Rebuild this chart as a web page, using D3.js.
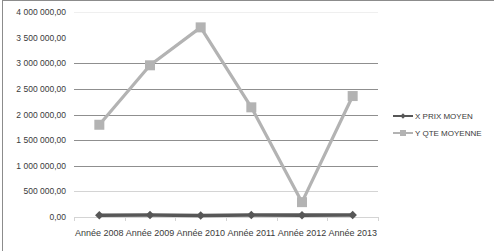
<!DOCTYPE html>
<html>
<head>
<meta charset="utf-8">
<script src="https://cdn.jsdelivr.net/npm/d3@7"></script>
<style>
  body { margin: 0; background: #fff; }
  svg text { font-family: "Liberation Sans", Arial, sans-serif; fill: #3a3a3a; }
</style>
</head>
<body>
<div id="chart"></div>
<script>
const categories = ['Année 2008', 'Année 2009', 'Année 2010', 'Année 2011', 'Année 2012', 'Année 2013'];
const prixMoyen = [35000, 38000, 30000, 40000, 36000, 38000];
const qteMoyenne = [1800000, 2960000, 3700000, 2140000, 290000, 2360000];
const yTicks = [0, 500000, 1000000, 1500000, 2000000, 2500000, 3000000, 3500000, 4000000];
const seriesNames = ['X PRIX MOYEN', 'Y QTE MOYENNE'];

const width = 494, height = 251;
const margin = {top: 12, right: 116, bottom: 34, left: 74};

const svg = d3.select('#chart').append('svg')
  .attr('width', width)
  .attr('height', height);

// outer frame
svg.append('rect')
  .attr('x', 2.5).attr('y', 0.5)
  .attr('width', 520).attr('height', 280)
  .attr('fill', 'none')
  .attr('stroke', '#8c8c8c');

const x = d3.scaleBand()
  .domain(categories)
  .range([margin.left, width - margin.right]);

const y = d3.scaleLinear()
  .domain([0, 4000000])
  .range([height - margin.bottom, margin.top]);

const fmt = v => d3.format(',.2f')(v).replace(/,/g, ' ').replace('.', ',');

// gridlines (the original has uneven grey tones)
const gridColor = v => {
  if (v === 4000000) return '#efefef';
  if (v === 3500000) return '#ffffff';
  if (v === 500000 || v === 0) return '#d4d4d4';
  return '#8f8f8f';
};

svg.append('g')
  .selectAll('line')
  .data(yTicks)
  .join('line')
  .attr('x1', margin.left)
  .attr('x2', width - margin.right)
  .attr('y1', d => Math.round(y(d)) + 0.5)
  .attr('y2', d => Math.round(y(d)) + 0.5)
  .attr('stroke', d => gridColor(d));

// y labels
svg.append('g')
  .selectAll('text')
  .data(yTicks)
  .join('text')
  .attr('x', margin.left - 8)
  .attr('y', d => y(d) + 3)
  .attr('text-anchor', 'end')
  .style('font-size', '8.5px')
  .text(d => fmt(d));

// category ticks on the axis
const bounds = categories.map(c => x(c)).concat([x.range()[1]]);
svg.append('g')
  .selectAll('line')
  .data(bounds)
  .join('line')
  .attr('x1', d => Math.round(d) + 0.5)
  .attr('x2', d => Math.round(d) + 0.5)
  .attr('y1', y(0))
  .attr('y2', y(0) + 4)
  .attr('stroke', '#d4d4d4');

// x labels
svg.append('g')
  .selectAll('text')
  .data(categories)
  .join('text')
  .attr('x', d => x(d) + x.bandwidth() / 2)
  .attr('y', y(0) + 19)
  .attr('text-anchor', 'middle')
  .style('font-size', '9px')
  .text(d => d);

const cx = (d, i) => x(categories[i]) + x.bandwidth() / 2;
const line = d3.line().x(cx).y(d => y(d));

// QTE series
svg.append('path')
  .datum(qteMoyenne)
  .attr('d', line)
  .attr('fill', 'none')
  .attr('stroke', '#b3b3b3')
  .attr('stroke-width', 3.2)
  .attr('stroke-linejoin', 'round');

svg.append('g')
  .selectAll('rect')
  .data(qteMoyenne)
  .join('rect')
  .attr('x', (d, i) => cx(d, i) - 5)
  .attr('y', d => y(d) - 5)
  .attr('width', 10)
  .attr('height', 10)
  .attr('fill', '#b3b3b3');

// PRIX series
svg.append('path')
  .datum(prixMoyen)
  .attr('d', line)
  .attr('fill', 'none')
  .attr('stroke', '#575757')
  .attr('stroke-width', 3.6);

svg.append('g')
  .selectAll('path')
  .data(prixMoyen)
  .join('path')
  .attr('transform', (d, i) => `translate(${cx(d, i)},${y(d)}) rotate(45)`)
  .attr('d', d3.symbol().type(d3.symbolSquare).size(36))
  .attr('fill', '#575757');

// legend
const legend = svg.append('g').attr('transform', 'translate(393,116)');
const items = [
  {name: seriesNames[0], color: '#575757', shape: 'diamond'},
  {name: seriesNames[1], color: '#b3b3b3', shape: 'square'}
];
items.forEach((it, i) => {
  const g = legend.append('g').attr('transform', `translate(0,${i * 17})`);
  g.append('line')
    .attr('x1', 0).attr('x2', 20)
    .attr('stroke', it.color)
    .attr('stroke-width', 2);
  if (it.shape === 'diamond') {
    g.append('path')
      .attr('transform', 'translate(10,0) rotate(45)')
      .attr('d', d3.symbol().type(d3.symbolSquare).size(14))
      .attr('fill', it.color);
  } else {
    g.append('rect')
      .attr('x', 7).attr('y', -3)
      .attr('width', 6).attr('height', 6)
      .attr('fill', it.color);
  }
  g.append('text')
    .attr('x', 22)
    .attr('y', 3)
    .style('font-size', '8px')
    .text(it.name);
});
</script>
</body>
</html>
